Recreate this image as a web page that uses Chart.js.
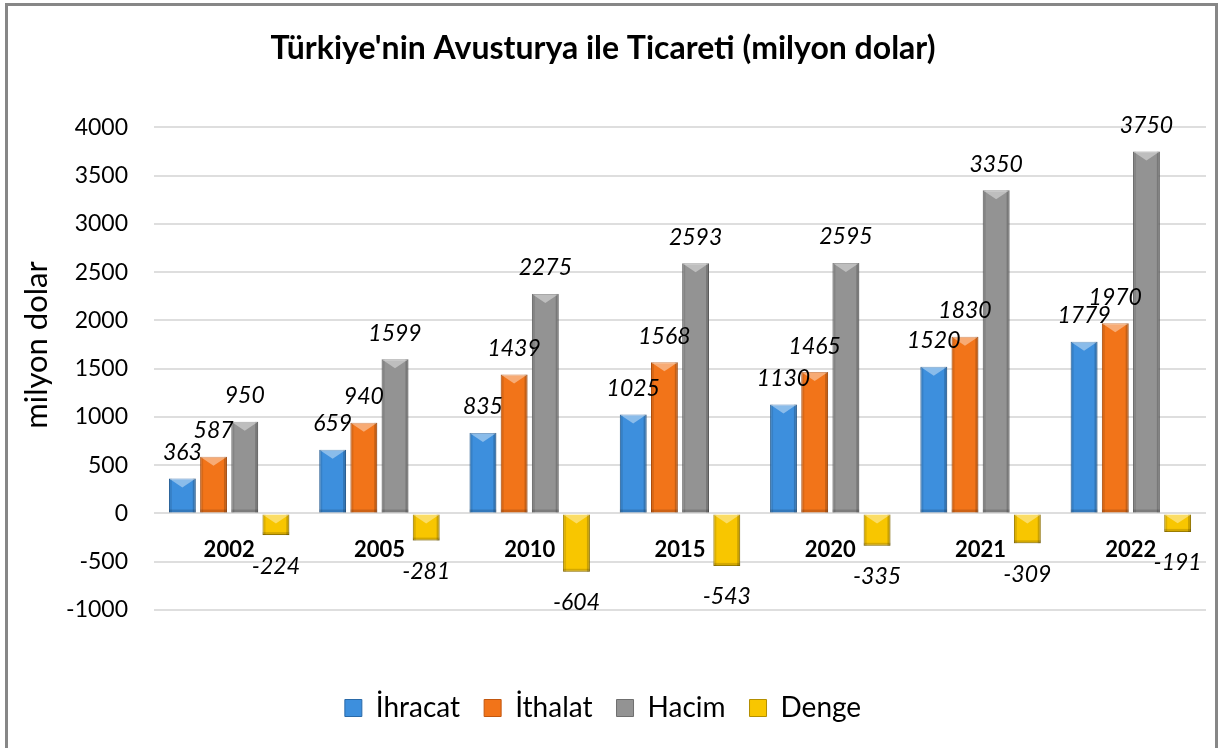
<!DOCTYPE html>
<html>
<head>
<meta charset="utf-8">
<script src="https://cdn.jsdelivr.net/npm/chart.js@4"></script>
<style>
  html, body { margin: 0; padding: 0; background: #fff; overflow: hidden; }
  #wrap { position: relative; width: 1221px; height: 748px; }
  #frame { position: absolute; left: 5px; top: 3px; width: 1213px; height: 800px; border: 3px solid #878787; box-sizing: border-box; pointer-events: none; }
</style>
</head>
<body>
<div id="wrap">
  <canvas id="chart" width="1221" height="748"></canvas>
  <div id="frame"></div>
</div>
<script>
// values (milyon dolar)
const years = ['2002', '2005', '2010', '2015', '2020', '2021', '2022'];
const ihracat = [363, 659, 835, 1025, 1130, 1520, 1779];
const ithalat = [587, 940, 1439, 1568, 1465, 1830, 1970];
const hacim = [950, 1599, 2275, 2593, 2595, 3350, 3750];
const denge = [-224, -281, -604, -543, -335, -309, -191];
const yMin = -1000, yMax = 4000, yStep = 500;

const FONT = 'Lato, "Open Sans", sans-serif';

// light top bevel + darker sides, like the office 3d bar style
const bevelPlugin = {
    id: 'bevel',
    afterDatasetsDraw(chart) {
        const ctx = chart.ctx;
        chart.data.datasets.forEach((ds, i) => {
            const meta = chart.getDatasetMeta(i);
            if (meta.hidden) return;
            meta.data.forEach(bar => {
                const p = bar.getProps(['x', 'y', 'base', 'width'], true);
                const l = p.x - p.width / 2, r = p.x + p.width / 2;
                const t = Math.min(p.y, p.base), b = Math.max(p.y, p.base);
                const d = Math.min(9, (b - t) / 2);
                ctx.save();
                ctx.fillStyle = 'rgba(0,0,0,0.10)';
                ctx.fillRect(l, t, 3, b - t);
                ctx.fillStyle = 'rgba(0,0,0,0.18)';
                ctx.fillRect(r - 3, t, 3, b - t);
                ctx.fillStyle = 'rgba(0,0,0,0.15)';
                ctx.fillRect(l, b - 3, r - l, 3);
                ctx.fillStyle = 'rgba(255,255,255,0.40)';
                ctx.beginPath();
                ctx.moveTo(l, t);
                ctx.lineTo(r, t);
                ctx.lineTo(p.x, t + d);
                ctx.closePath();
                ctx.fill();
                ctx.restore();
            });
        });
    }
};

// value labels above (or below) every bar
const valueLabels = {
    id: 'valueLabels',
    afterDatasetsDraw(chart) {
        const ctx = chart.ctx;
        ctx.save();
        ctx.font = 'italic 23px ' + FONT;
        ctx.fillStyle = '#000';
        ctx.textAlign = 'center';
        ctx.textBaseline = 'middle';
        chart.data.datasets.forEach((ds, i) => {
            const meta = chart.getDatasetMeta(i);
            meta.data.forEach((bar, j) => {
                const v = ds.data[j];
                const y = v >= 0 ? bar.y - 26 : bar.y + 31;
                ctx.fillText(String(v), bar.x, y);
            });
        });
        ctx.restore();
    }
};

// year labels sit just under the zero line, axis title on the left
const axisText = {
    id: 'axisText',
    afterDraw(chart) {
        const ctx = chart.ctx;
        const xs = chart.scales.x, ys = chart.scales.y;
        const y0 = ys.getPixelForValue(0);
        ctx.save();
        ctx.font = 'bold 22px ' + FONT;
        ctx.fillStyle = '#000';
        ctx.textAlign = 'center';
        ctx.textBaseline = 'middle';
        years.forEach((yr, i) => {
            ctx.fillText(yr, xs.getPixelForValue(i), y0 + 36);
        });
        ctx.font = '31px ' + FONT;
        ctx.translate(37, 345);
        ctx.rotate(-Math.PI / 2);
        ctx.fillText('milyon dolar', 0, 0);
        ctx.restore();
    }
};

new Chart(document.getElementById('chart'), {
    type: 'bar',
    data: {
        labels: years,
        datasets: [
            { label: 'İhracat', data: ihracat, backgroundColor: '#3d8fdd', borderColor: '#2a6aa8' },
            { label: 'İthalat', data: ithalat, backgroundColor: '#f27419', borderColor: '#c2570f' },
            { label: 'Hacim', data: hacim, backgroundColor: '#939393', borderColor: '#6f6f6f' },
            { label: 'Denge', data: denge, backgroundColor: '#f8c600', borderColor: '#b38f00' }
        ]
    },
    options: {
        responsive: false,
        animation: false,
        devicePixelRatio: 1,
        layout: { padding: { left: 0, right: 15, top: 0, bottom: 16 } },
        datasets: {
            bar: { categoryPercentage: 0.83, barPercentage: 0.86, borderWidth: 1 }
        },
        plugins: {
            title: {
                display: true,
                text: "Türkiye'nin Avusturya ile Ticareti (milyon dolar)",
                color: '#000',
                font: { family: FONT, size: 32, weight: 'bold' },
                padding: { top: 29, bottom: 60 }
            },
            legend: {
                position: 'bottom',
                labels: {
                    color: '#000',
                    font: { family: FONT, size: 28 },
                    boxWidth: 17,
                    boxHeight: 17,
                    padding: 24
                }
            },
            tooltip: { enabled: false }
        },
        scales: {
            x: {
                grid: { display: false },
                border: { display: false },
                ticks: { display: false },
                afterFit: s => { s.height = 60; }
            },
            y: {
                min: yMin,
                max: yMax,
                afterFit: s => { s.width = 154; },
                border: { display: false },
                grid: { color: '#dedede', lineWidth: 2, drawTicks: false },
                ticks: {
                    stepSize: yStep,
                    color: '#000',
                    padding: 26,
                    font: { family: FONT, size: 23 },
                    callback: v => String(v)
                }
            }
        }
    },
    plugins: [bevelPlugin, valueLabels, axisText]
});
</script>
</body>
</html>
